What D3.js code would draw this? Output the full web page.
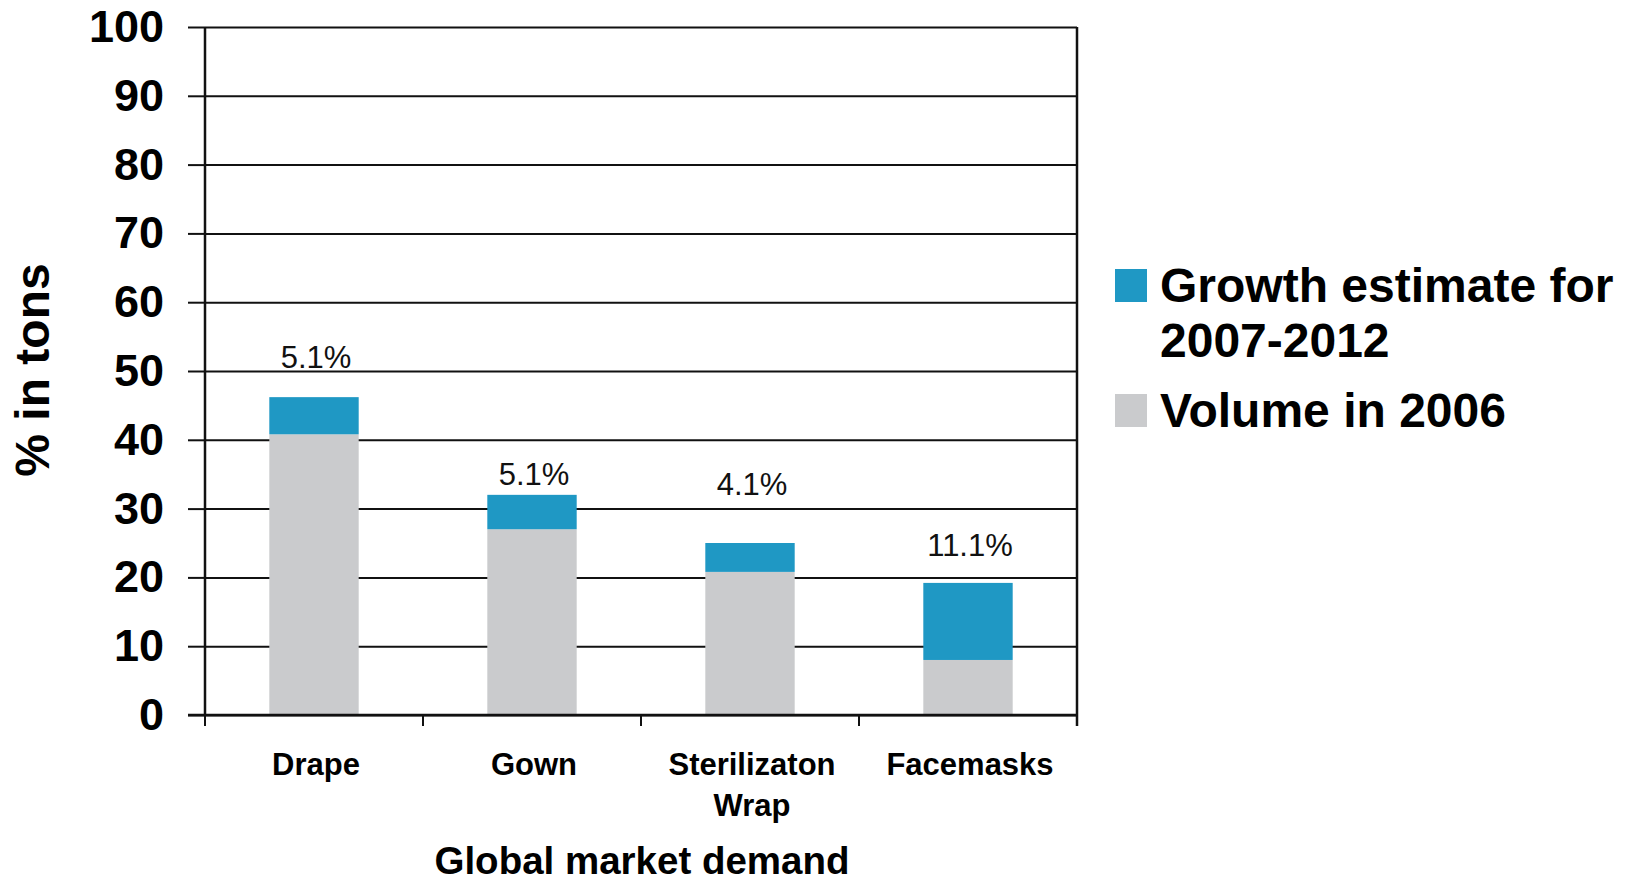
<!DOCTYPE html>
<html>
<head>
<meta charset="utf-8">
<script src="https://cdn.jsdelivr.net/npm/d3@7"></script>
<style>
  html, body { margin: 0; padding: 0; background: #fff; }
  svg { display: block; font-family: "Liberation Sans", Arial, sans-serif; }
</style>
</head>
<body>
<svg id="chart" width="1634" height="884"></svg>
<script>
// ---- data ----
const categories = ["Drape", "Gown", "Sterilizaton Wrap", "Facemasks"];
const categoryLines = [["Drape"], ["Gown"], ["Sterilizaton", "Wrap"], ["Facemasks"]];
const volume2006 = [40.8, 27.0, 20.8, 8.0];
const growthEstimate = [5.4, 5.0, 4.2, 11.2];
const growthLabels = ["5.1%", "5.1%", "4.1%", "11.1%"];
const growthLabelAt = [50.4, 33.4, 32.0, 23.1];
const yTicks = [0, 10, 20, 30, 40, 50, 60, 70, 80, 90, 100];
const seriesNames = ["Growth estimate for 2007-2012", "Volume in 2006"];
const legendLines = [["Growth estimate for", "2007-2012"], ["Volume in 2006"]];
const seriesColors = ["#1f98c4", "#cacbcd"];

// ---- layout ----
const svg = d3.select("#chart");
const pLeft = 205, pRight = 1077, pTop = 27, pBottom = 715;

const x = d3.scaleBand().domain(categories).range([pLeft, pRight])
  .paddingInner(0.59).paddingOuter(0.295);
const y = d3.scaleLinear().domain([0, 100]).range([pBottom, pTop]);

// gridlines
const grid = svg.append("g").attr("transform", `translate(${pLeft},0)`)
  .call(d3.axisLeft(y).tickValues(yTicks).tickSize(-(pRight - pLeft)).tickFormat(""));
grid.select(".domain").remove();
grid.selectAll(".tick line").attr("stroke", "#111").attr("stroke-width", 2);

// bars
const rows = categories.map((c, i) => ({
  cat: c, vol: volume2006[i], gr: growthEstimate[i], label: growthLabels[i], at: growthLabelAt[i]
}));
const bars = svg.append("g");
bars.selectAll("rect.vol").data(rows).join("rect").attr("class", "vol")
  .attr("x", d => x(d.cat)).attr("width", x.bandwidth())
  .attr("y", d => y(d.vol)).attr("height", d => y(0) - y(d.vol))
  .attr("fill", seriesColors[1]);
bars.selectAll("rect.gr").data(rows).join("rect").attr("class", "gr")
  .attr("x", d => x(d.cat)).attr("width", x.bandwidth())
  .attr("y", d => y(d.vol + d.gr)).attr("height", d => y(d.vol) - y(d.vol + d.gr))
  .attr("fill", seriesColors[0]);

// value labels
svg.append("g").selectAll("text").data(rows).join("text")
  .attr("x", d => x(d.cat) + x.bandwidth() / 2 + 2)
  .attr("y", d => y(d.at))
  .attr("text-anchor", "middle")
  .attr("font-size", 31).attr("fill", "#111")
  .text(d => d.label);

// y axis
const yAxis = svg.append("g").attr("transform", `translate(${pLeft},0)`)
  .call(d3.axisLeft(y).tickValues(yTicks).tickSize(17).tickPadding(24));
yAxis.select(".domain").attr("stroke", "#111").attr("stroke-width", 2.5)
  .attr("d", `M0,${pTop}V${pBottom}`);
yAxis.selectAll(".tick line").attr("stroke", "#111").attr("stroke-width", 2);
yAxis.selectAll(".tick text").attr("font-size", 45).attr("font-weight", "bold")
  .attr("fill", "#000").attr("font-family", "Liberation Sans, Arial, sans-serif");

// right border
svg.append("line").attr("x1", pRight).attr("x2", pRight).attr("y1", pTop).attr("y2", pBottom + 11)
  .attr("stroke", "#111").attr("stroke-width", 2.5);

// bottom axis line and boundary ticks
svg.append("line").attr("x1", pLeft - 17).attr("x2", pRight).attr("y1", pBottom).attr("y2", pBottom)
  .attr("stroke", "#111").attr("stroke-width", 2.5);
const boundaries = d3.range(categories.length + 1).map(i => pLeft + i * x.step());
svg.append("g").selectAll("line").data(boundaries).join("line")
  .attr("x1", d => d).attr("x2", d => d).attr("y1", pBottom).attr("y2", pBottom + 11)
  .attr("stroke", "#111").attr("stroke-width", 2);

// category labels
const catG = svg.append("g").selectAll("text").data(categories).join("text")
  .attr("x", d => x(d) + x.bandwidth() / 2 + 2)
  .attr("y", 775)
  .attr("text-anchor", "middle").attr("font-size", 31).attr("font-weight", "bold").attr("fill", "#000");
catG.each(function(d, i) {
  d3.select(this).selectAll("tspan").data(categoryLines[i]).join("tspan")
    .attr("x", x(d) + x.bandwidth() / 2 + 2)
    .attr("dy", (t, j) => j === 0 ? 0 : 41)
    .text(t => t);
});

// axis titles
svg.append("text").attr("x", (pLeft + pRight) / 2 + 1).attr("y", 874)
  .attr("text-anchor", "middle").attr("font-size", 38.5).attr("font-weight", "bold").attr("fill", "#000")
  .text("Global market demand");
svg.append("text").attr("transform", "translate(49,370) rotate(-90)")
  .attr("text-anchor", "middle").attr("font-size", 48).attr("font-weight", "bold").attr("fill", "#000")
  .text("% in tons");

// legend
const legendTop = [269, 394];
const lg = svg.append("g");
seriesNames.forEach((name, i) => {
  lg.append("rect").attr("x", 1115).attr("y", legendTop[i]).attr("width", 32).attr("height", 33)
    .attr("fill", seriesColors[i]);
  const t = lg.append("text").attr("x", 1160).attr("y", legendTop[i] + 33)
    .attr("font-size", 48).attr("font-weight", "bold").attr("fill", "#000");
  t.selectAll("tspan").data(legendLines[i]).join("tspan")
    .attr("x", 1160).attr("dy", (s, j) => j === 0 ? 0 : 55).text(s => s);
});
</script>
</body>
</html>
